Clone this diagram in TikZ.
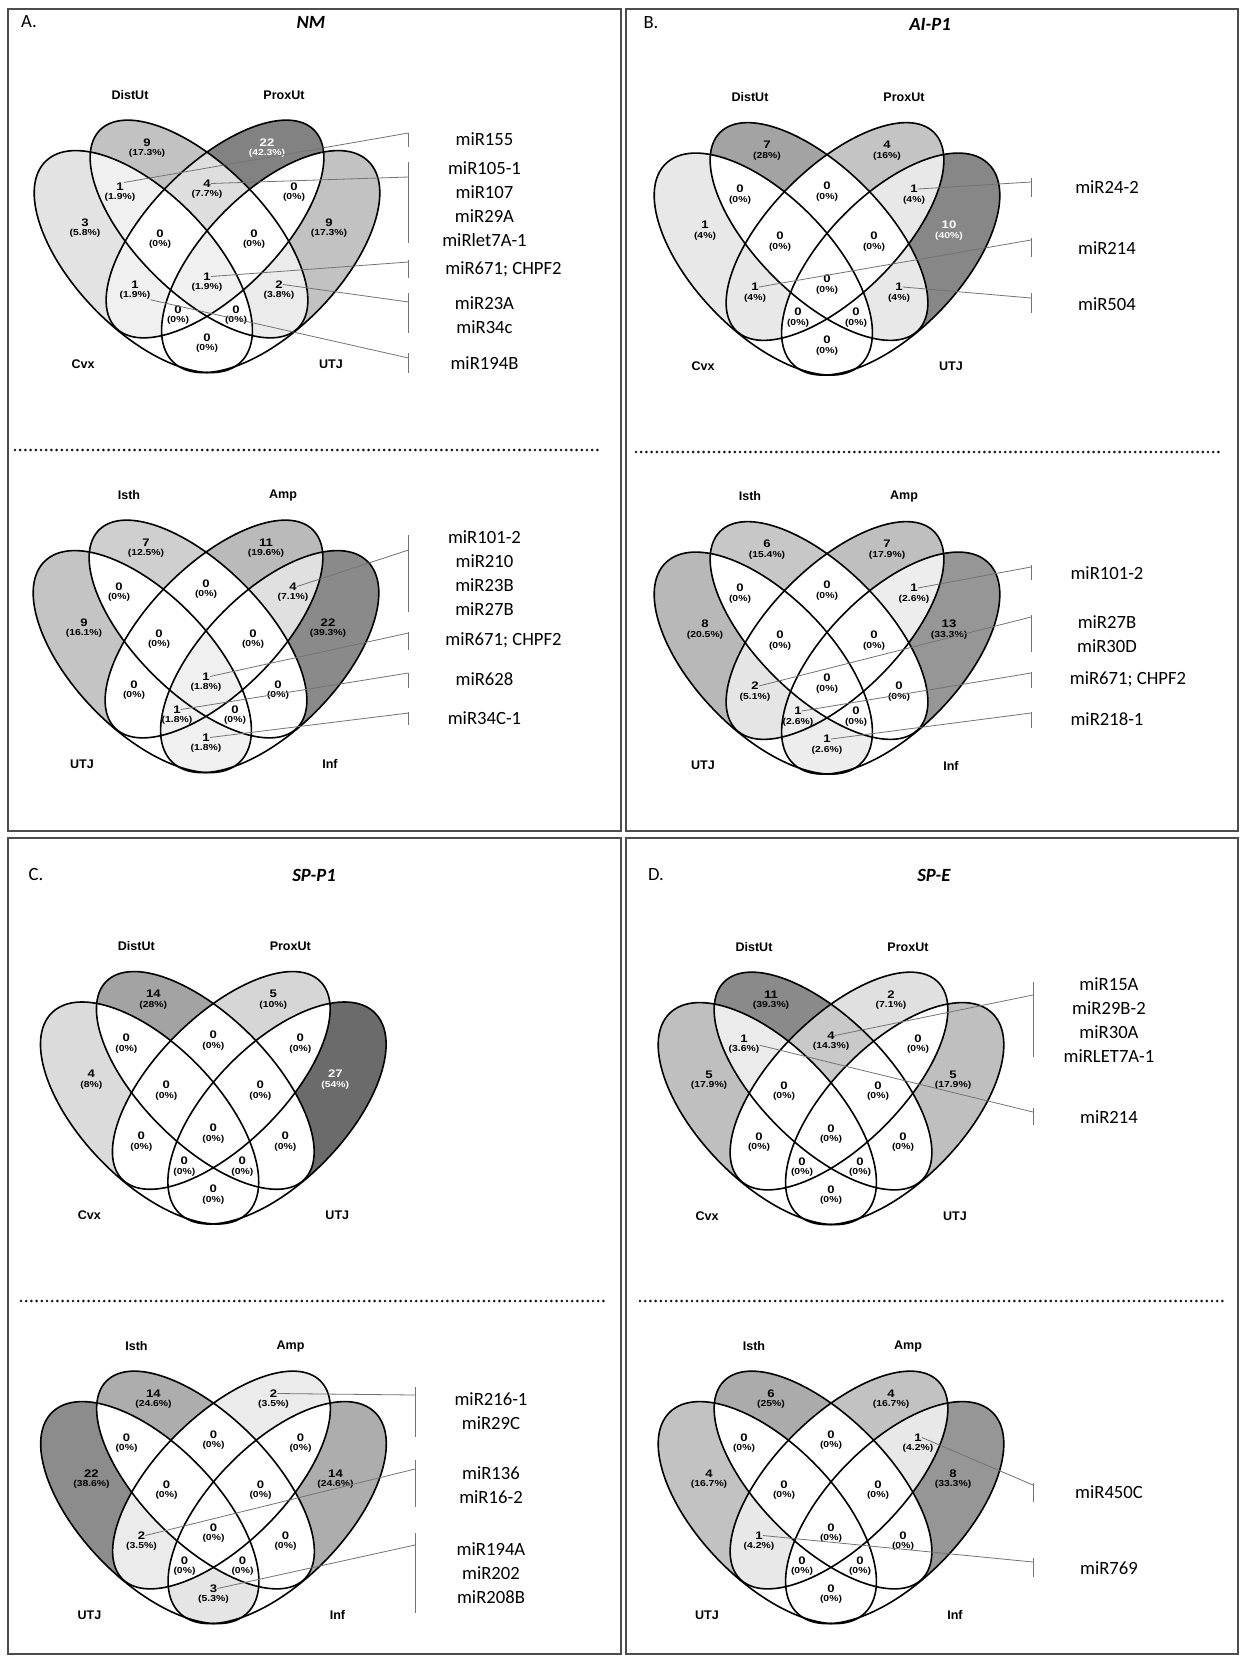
\documentclass[tikz,border=0pt]{standalone}
\usepackage{fontspec}
\setmainfont{Carlito}
\newfontfamily\vnum[FakeStretch=1.2]{Liberation Sans}
\newfontfamily\vset{Liberation Sans}

\tikzset{
  vline/.style={line width=1.2pt, black},
  lead/.style={line width=0.6pt, black!55},
  numf/.style={font=\vnum\bfseries\fontsize{8.2}{8}\selectfont, inner sep=0pt},
  pcf/.style={font=\vnum\bfseries\fontsize{6.5}{7}\selectfont, inner sep=0pt},
  setf/.style={font=\vset\bfseries\fontsize{9.4}{11}\selectfont, inner sep=0pt},
  mirf/.style={font=\fontsize{14}{18}\selectfont, align=center, inner sep=0pt, text=black},
  ttlf/.style={font=\fontsize{14}{16}\selectfont, inner sep=0pt},
  panel/.style={line width=1.2pt, black!70},
  dotsep/.style={line width=2.2pt, black!90, line cap=round, dash pattern=on 0pt off 3.9pt},
}

% ellipse paths, relative to the diagram origin (centre line, centre of B/C chord)
\def\pA{(-63.7,26.6) ellipse [x radius=105pt, y radius=51pt, rotate=-45.8]}
\def\pB{(-8,-6) ellipse [x radius=105pt, y radius=48pt, rotate=-45]}
\def\pC{(8,-6) ellipse [x radius=105pt, y radius=48pt, rotate=45]}
\def\pD{(63.7,26.6) ellipse [x radius=105pt, y radius=51pt, rotate=45.8]}
\def\cA{\clip \pA;}\def\cB{\clip \pB;}\def\cC{\clip \pC;}\def\cD{\clip \pD;}
\def\wA{\fill[white] \pA;}\def\wB{\fill[white] \pB;}\def\wC{\fill[white] \pC;}\def\wD{\fill[white] \pD;}
% the thin strips beyond the tips of C (in A) and B (in D) stay unshaded
\def\hA{\fill[white] (171.3,-162) -- (-258.9,256.2) -- (-69.7,450.8) -- (360.5,32.6) -- cycle;}
\def\hD{\fill[white] (-171.3,-162) -- (258.9,256.2) -- (69.7,450.8) -- (-360.5,32.6) -- cycle;}

\newcommand\vdata[1]{\foreach \vk/\vc/\vp in {#1}{%
  \expandafter\xdef\csname ct\vk\endcsname{\vc}%
  \expandafter\xdef\csname pc\vk\endcsname{\vp}}}

\newcommand\rgn[3]{%
  \pgfmathsetmacro\pp{\csname pc#1\endcsname}%
  \ifdim\pp pt>0pt
  \begin{scope}#2
    \pgfmathtruncatemacro\NN{4+1.3*\pp-0.0055*\pp*\pp}%
    \fill[black!\NN] (-250,-250) rectangle (250,250);
    #3
  \end{scope}
  \fi}

\newcommand\rl[3]{%
  \pgfmathsetmacro\pp{\csname pc#1\endcsname}%
  \ifdim\pp pt<39.9pt\def\tcol{black}\else\def\tcol{white}\fi
  \node[numf,text=\tcol] (\dn-#1n) at (#2,#3-5.5) {\csname ct#1\endcsname};
  \node[pcf,text=\tcol] (\dn-#1p) at (#2,#3+5.5) {(\csname pc#1\endcsname\%)};}

\newcommand\vdiag[7]{%
 \def\dn{#1}%
 \begin{scope}[shift={(#2,#3)}]
  \rgn{A}{\cA}{\wB\wC\wD\hA}
  \rgn{B}{\cB}{\wA\wC\wD}
  \rgn{C}{\cC}{\wA\wB\wD}
  \rgn{D}{\cD}{\wA\wB\wC\hD}
  \rgn{AB}{\cA\cB}{\wC\wD}
  \rgn{BC}{\cB\cC}{\wA\wD}
  \rgn{CD}{\cC\cD}{\wA\wB}
  \rgn{AC}{\cA\cC}{\wB\wD}
  \rgn{BD}{\cB\cD}{\wA\wC}
  \rgn{AD}{\cA\cD}{\wB\wC}
  \rgn{ABC}{\cA\cB\cC}{\wD}
  \rgn{BCD}{\cB\cC\cD}{\wA}
  \rgn{ACD}{\cA\cC\cD}{\wB}
  \rgn{ABD}{\cA\cB\cD}{\wC}
  \rgn{ABCD}{\cA\cB\cC\cD}{}
  \draw[vline] \pA; \draw[vline] \pB; \draw[vline] \pC; \draw[vline] \pD;
  \rl{A}{-122}{-7} \rl{B}{-60}{-87} \rl{C}{60}{-87} \rl{D}{122}{-7}
  \rl{AB}{-87}{-43} \rl{BC}{0}{-46} \rl{CD}{87}{-43}
  \rl{ABC}{-47}{4} \rl{BCD}{47}{4}
  \rl{AC}{-72}{55} \rl{ABCD}{0}{47} \rl{BD}{72}{55}
  \rl{ACD}{-29}{80} \rl{ABD}{29}{80} \rl{AD}{0}{108}
  \node[setf] (#1-sA) at (-124,129) {#4};
  \node[setf] (#1-sB) at (-77,-140) {#5};
  \node[setf] (#1-sC) at (77,-140) {#6};
  \node[setf] (#1-sD) at (124,129) {#7};
 \end{scope}}

\newcommand\brk[9]{%
  \coordinate (#1t) at (#2,#3); \coordinate (#1b) at (#2,#4); \coordinate (#1e) at (#2,#5);
  \draw[lead] (#1t) -- (#1b);
  \draw[lead] (#6) -- (#1e);
  \node[mirf] (#1x) at (#2+#9,#8) {#7};}

\begin{document}
\begin{tikzpicture}[x=0.75pt,y=-0.75pt]
\useasboundingbox (0,0) rectangle (1240,1656);
\fill[white] (0,0) rectangle (1240,1656);

% panel frames
\draw[panel] (8,9) rectangle (621,831);
\draw[panel] (626,9) rectangle (1238,831);
\draw[panel] (8,838) rectangle (621,1654);
\draw[panel] (626,838) rectangle (1238,1654);

% titles
\node[ttlf] (tA) at (29,22) {A.};
\node[ttlf] (tNM) at (311,22) {\textbf{\textit{NM}}};
\node[ttlf] (tB) at (651,23) {B.};
\node[ttlf] (tAI) at (930,24) {\textbf{\textit{AI-P1}}};
\node[ttlf] (tC) at (36,875) {C.};
\node[ttlf] (tSP1) at (314,875) {\textbf{\textit{SP-P1}}};
\node[ttlf] (tD) at (656,875) {D.};
\node[ttlf] (tSPE) at (934,875) {\textbf{\textit{SP-E}}};

% dotted separators
\coordinate (dA1) at (15,450); \coordinate (dA2) at (602,450);
\coordinate (dB1) at (636,452); \coordinate (dB2) at (1223,452);
\coordinate (dC1) at (21,1301); \coordinate (dC2) at (607,1301);
\coordinate (dD1) at (640,1301); \coordinate (dD2) at (1225,1301);
\draw[dotsep] (dA1) -- (dA2);
\draw[dotsep] (dB1) -- (dB2);
\draw[dotsep] (dC1) -- (dC2);
\draw[dotsep] (dD1) -- (dD2);

% ---- A top: NM
\vdata{A/3/5.8, B/9/17.3, C/22/42.3, D/9/17.3, AB/1/1.9, BC/4/7.7, CD/0/0, ABC/0/0, BCD/0/0, AC/1/1.9, ABCD/1/1.9, BD/2/3.8, ACD/0/0, ABD/0/0, AD/0/0}
\vdiag{at}{207}{235}{Cvx}{DistUt}{ProxUt}{UTJ}
% ---- A bottom
\vdata{A/9/16.1, B/7/12.5, C/11/19.6, D/22/39.3, AB/0/0, BC/0/0, CD/4/7.1, ABC/0/0, BCD/0/0, AC/0/0, ABCD/1/1.8, BD/0/0, ACD/1/1.8, ABD/0/0, AD/1/1.8}
\vdiag{ab}{206}{635}{UTJ}{Isth}{Amp}{Inf}
% ---- B top: AI-P1
\vdata{A/1/4, B/7/28, C/4/16, D/10/40, AB/0/0, BC/0/0, CD/1/4, ABC/0/0, BCD/0/0, AC/1/4, ABCD/0/0, BD/1/4, ACD/0/0, ABD/0/0, AD/0/0}
\vdiag{bt}{827}{237.5}{Cvx}{DistUt}{ProxUt}{UTJ}
% ---- B bottom
\vdata{A/8/20.5, B/6/15.4, C/7/17.9, D/13/33.3, AB/0/0, BC/0/0, CD/1/2.6, ABC/0/0, BCD/0/0, AC/2/5.1, ABCD/0/0, BD/0/0, ACD/1/2.6, ABD/0/0, AD/1/2.6}
\vdiag{bb}{827}{636.5}{UTJ}{Isth}{Amp}{Inf}
% ---- C top: SP-P1
\vdata{A/4/8, B/14/28, C/5/10, D/27/54, AB/0/0, BC/0/0, CD/0/0, ABC/0/0, BCD/0/0, AC/0/0, ABCD/0/0, BD/0/0, ACD/0/0, ABD/0/0, AD/0/0}
\vdiag{ct}{213.3}{1086.4}{Cvx}{DistUt}{ProxUt}{UTJ}
% ---- C bottom
\vdata{A/22/38.6, B/14/24.6, C/2/3.5, D/14/24.6, AB/0/0, BC/0/0, CD/0/0, ABC/0/0, BCD/0/0, AC/2/3.5, ABCD/0/0, BD/0/0, ACD/0/0, ABD/0/0, AD/3/5.3}
\vdiag{cb}{213.5}{1486}{UTJ}{Isth}{Amp}{Inf}
% ---- D top: SP-E
\vdata{A/5/17.9, B/11/39.3, C/2/7.1, D/5/17.9, AB/1/3.6, BC/4/14.3, CD/0/0, ABC/0/0, BCD/0/0, AC/0/0, ABCD/0/0, BD/0/0, ACD/0/0, ABD/0/0, AD/0/0}
\vdiag{dt}{831}{1087}{Cvx}{DistUt}{ProxUt}{UTJ}
% ---- D bottom
\vdata{A/4/16.7, B/6/25, C/4/16.7, D/8/33.3, AB/0/0, BC/0/0, CD/1/4.2, ABC/0/0, BCD/0/0, AC/1/4.2, ABCD/0/0, BD/0/0, ACD/0/0, ABD/0/0, AD/0/0}
\vdiag{db}{831}{1486}{UTJ}{Isth}{Amp}{Inf}

% ---- leader lines and miRNA names
\brk{atb1}{408.5}{133}{147}{133}{at-ABn.north east}{miR155}{139}{76}
\brk{atb2}{408.5}{162}{243}{177}{at-BCn.east}{miR105-1\\miR107\\miR29A\\miRlet7A-1}{204}{76}
\brk{atb3}{408.5}{260}{278}{262}{at-ABCDn.east}{miR671; CHPF2}{269}{95}
\brk{atb4}{408.5}{293}{333}{302}{at-BDn.east}{miR23A\\miR34c}{315}{76}
\brk{atb5}{408.5}{353}{373}{358}{at-ACp.south east}{miR194B}{363}{76}

\brk{abb1}{408.5}{535}{612}{550}{ab-CDn.east}{miR101-2\\miR210\\miR23B\\miR27B}{573.5}{76}
\brk{abb2}{408.5}{632}{650}{633}{ab-ABCDn.east}{miR671; CHPF2}{640}{95}
\brk{abb3}{408.5}{673}{688}{673}{ab-ACDn.east}{miR628}{679}{76}
\brk{abb4}{408.5}{712}{725}{713}{ab-ADn.east}{miR34C-1}{718}{76}

\brk{btb1}{1031}{178}{197}{182}{bt-CDn.east}{miR24-2}{187}{76}
\brk{btb2}{1031}{238}{257}{240}{bt-ACn.east}{miR214}{248}{76}
\brk{btb3}{1031}{293}{313}{298}{bt-BDn.east}{miR504}{304}{76}

\brk{bbb1}{1031}{565}{580}{567}{bb-CDn.east}{miR101-2}{573}{76}
\brk{bbb2}{1031}{615}{652}{617}{bb-ACn.east}{miR27B\\miR30D}{634}{76}
\brk{bbb3}{1031}{672}{688}{673}{bb-ACDn.east}{miR671; CHPF2}{679}{97}
\brk{bbb4}{1031}{712}{728}{713}{bb-ADn.east}{miR218-1}{719}{76}

\brk{cbb1}{415}{1387}{1437}{1395}{cb-Cn.east}{miR216-1\\miR29C}{1411}{76}
\brk{cbb2}{415}{1460}{1507}{1469}{cb-ACn.east}{miR136\\miR16-2}{1485}{76}
\brk{cbb3}{415}{1533}{1613}{1545}{cb-ADn.east}{miR194A\\miR202\\miR208B}{1573}{76}

\brk{dtb1}{1033}{982}{1057}{995}{dt-BCn.east}{miR15A\\miR29B-2\\miR30A\\miRLET7A-1}{1020}{76}
\brk{dtb2}{1033}{1108}{1125}{1112}{dt-ABp.north east}{miR214}{1117}{76}

\brk{dbb1}{1033}{1483}{1502}{1485}{db-CDn.east}{miR450C}{1492}{76}
\brk{dbb2}{1033}{1558}{1577}{1562}{db-ACn.east}{miR769}{1568}{76}
\end{tikzpicture}
\end{document}
